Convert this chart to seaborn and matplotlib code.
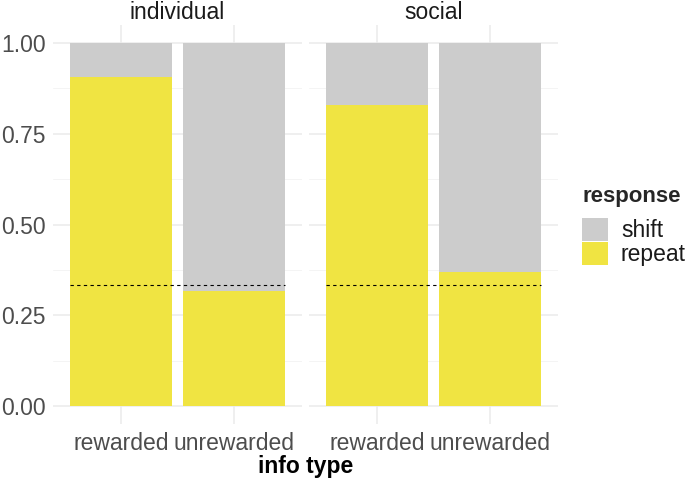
import numpy as np
import pandas as pd
import seaborn as sns
import matplotlib.pyplot as plt
from matplotlib.patches import Patch

# данные: доля повторов по типу информации
panels = ['individual', 'social']
info_types = ['rewarded', 'unrewarded']
repeat_individual = [0.907, 0.316]
repeat_social = [0.830, 0.368]
chance = 1 / 3

responses = ['shift', 'repeat']
colors = {'shift': '#CCCCCC', 'repeat': '#F0E442'}

df = pd.DataFrame({
    'panel': np.repeat(panels, len(info_types)),
    'info': info_types * len(panels),
    'repeat': repeat_individual + repeat_social,
})
df['total'] = 1.0

sns.set_theme(style='white')
plt.rcParams['font.family'] = ['Liberation Sans', 'DejaVu Sans']

fs = 16.5
fig = plt.figure(figsize=(6.85, 4.83), dpi=100)
W, H = 685, 483
bar_w = 0.9
for i, p in enumerate(panels):
    left = 53 + i * 256
    ax = fig.add_axes([left / W, (H - 424) / H, 249 / W, 399 / H])
    sub = df[df['panel'] == p]
    sns.barplot(data=sub, x='info', y='total', color=colors['shift'], width=bar_w,
                saturation=1, linewidth=0, ax=ax, zorder=2)
    sns.barplot(data=sub, x='info', y='repeat', color=colors['repeat'], width=bar_w,
                saturation=1, linewidth=0, ax=ax, zorder=3)
    ax.hlines(chance, -bar_w / 2, len(info_types) - 1 + bar_w / 2, colors='black',
              linestyles=(0, (3, 3)), linewidth=0.8, zorder=4)
    ax.set_xlim(-0.6, len(info_types) - 0.4)
    ax.set_ylim(-0.05, 1.05)
    ax.set_yticks([0, 0.25, 0.5, 0.75, 1.0])
    ax.set_yticks([0.125, 0.375, 0.625, 0.875], minor=True)
    ax.grid(True, which='major', color='#EBEBEB', linewidth=1.1, zorder=0)
    ax.grid(True, which='minor', axis='y', color='#F2F2F2', linewidth=0.6, zorder=0)
    ax.set_axisbelow(True)
    for s in ax.spines.values():
        s.set_visible(False)
    ax.tick_params(axis='both', which='both', length=0, labelsize=fs, colors='#4D4D4D')
    ax.tick_params(axis='x', pad=6)
    ax.tick_params(axis='y', pad=5)
    ax.set_xlabel('')
    ax.set_ylabel('')
    ax.set_title(p, fontsize=fs, color='#1A1A1A', pad=4)
    if i == 0:
        ax.set_yticklabels(['0.00', '0.25', '0.50', '0.75', '1.00'])
    else:
        ax.set_yticklabels([])

fig.text(305.5 / W, 1 - 466 / H, 'info type', ha='center', va='center',
         fontsize=fs, fontweight='bold', color='black')

handles = [Patch(facecolor=colors[r], edgecolor='none', label=r) for r in responses]
leg = fig.legend(handles=handles, title='response', loc='upper left',
                 bbox_to_anchor=(582 / W, 1 - 186 / H), frameon=False, borderpad=0,
                 borderaxespad=0,
                 fontsize=fs, title_fontproperties={'weight': 'bold', 'size': 16},
                 handlelength=1.15, handleheight=1.15, labelspacing=0.0,
                 handletextpad=0.55, alignment='left')
leg._legend_box.sep = 8  # отступ между заголовком и ключами
for t in leg.get_texts():
    t.set_color('#1A1A1A')

plt.savefig('out.png', dpi=100)
